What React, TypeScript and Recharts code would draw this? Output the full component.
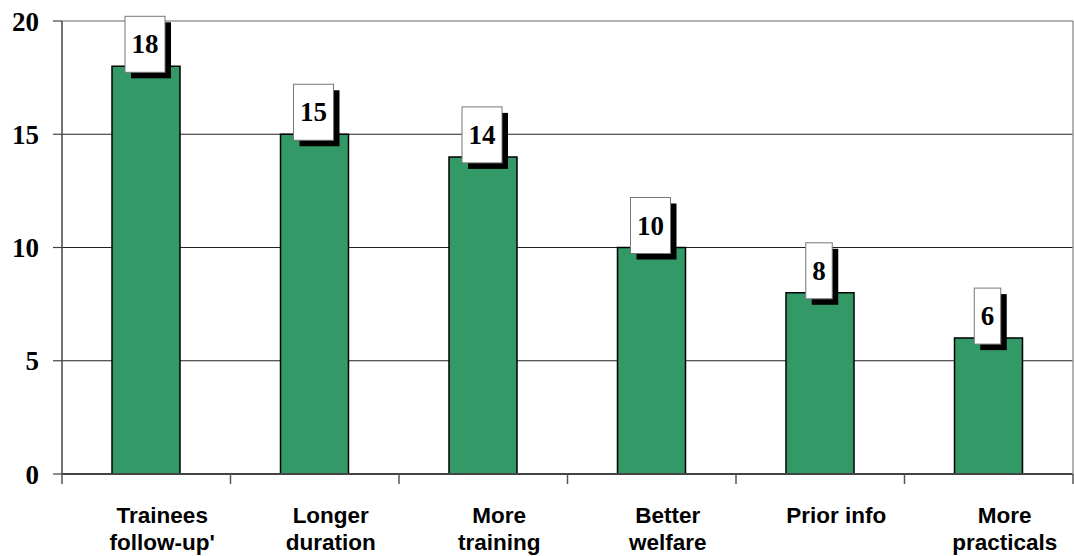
import { BarChart, Bar, XAxis, YAxis, CartesianGrid, ReferenceLine, LabelList } from "recharts";

// suggestions from trainees, number of mentions
const categories = [
  "Trainees\nfollow-up'",
  "Longer\nduration",
  "More\ntraining",
  "Better\nwelfare",
  "Prior info",
  "More\npracticals",
];
const mentions = [18, 15, 14, 10, 8, 6];
const yTicks = [0, 5, 10, 15, 20];

const data = categories.map((name, i) => ({ name, mentions: mentions[i] }));

const SERIF = "'Liberation Serif', 'Times New Roman', serif";
const SANS = "'Liberation Sans', Arial, sans-serif";

function CategoryTick(props: any) {
  const { x, y, payload, index } = props;
  const half = payload?.offset ?? 84;
  const lines = String(payload.value).split("\n");
  const top = y - 8;
  return (
    <g>
      <line x1={x - half} x2={x - half} y1={top} y2={top + 10} stroke="#555" strokeWidth={1.5} />
      {index === categories.length - 1 && (
        <line x1={x + half} x2={x + half} y1={top} y2={top + 10} stroke="#555" strokeWidth={1.5} />
      )}
      {lines.map((ln, i) => (
        <text
          key={i}
          x={x + 16}
          y={top + 49 + i * 27}
          textAnchor="middle"
          fontFamily={SANS}
          fontWeight="bold"
          fontSize={22.5}
          fill="#000"
        >
          {ln}
        </text>
      ))}
    </g>
  );
}

// white value box with a hard black drop shadow, sitting on the bar top
function ValueBox(props: any) {
  const { x, y, width, value } = props;
  const txt = String(value);
  const w = txt.length * 13.5 + 13;
  const h = 56;
  const cx = x + width / 2 - 1;
  const top = y - 50;
  return (
    <g>
      <rect x={cx - w / 2 + 6} y={top + 6} width={w} height={h} fill="#000" />
      <rect x={cx - w / 2} y={top} width={w} height={h} fill="#fff" stroke="#777" strokeWidth={1} />
      <text
        x={cx}
        y={top + h / 2 + 9}
        textAnchor="middle"
        fontFamily={SERIF}
        fontWeight="bold"
        fontSize={27}
        fill="#000"
      >
        {txt}
      </text>
    </g>
  );
}

export default function App() {
  return (
    <div style={{ position: "absolute", left: 0, top: 0, background: "#fff" }}>
      <BarChart
        width={1074}
        height={556}
        data={data}
        margin={{ top: 21, right: 0, left: 0, bottom: 0 }}
      >
        <CartesianGrid horizontalValues={[5, 10, 15]} vertical={false} stroke="#222" strokeWidth={1.2} />
        <ReferenceLine y={20} stroke="#999" strokeWidth={1.5} />
        <XAxis
          dataKey="name"
          height={82}
          interval={0}
          tickLine={false}
          axisLine={{ stroke: "#444", strokeWidth: 2 }}
          tick={<CategoryTick />}
        />
        <YAxis
          domain={[0, 20]}
          ticks={yTicks}
          width={62}
          tickSize={9}
          tickMargin={14}
          axisLine={{ stroke: "#444", strokeWidth: 1.5 }}
          tickLine={{ stroke: "#444", strokeWidth: 1.2 }}
          tick={{ fontFamily: SERIF, fontWeight: "bold", fontSize: 27, fill: "#000" }}
        />
        <YAxis
          yAxisId="frame"
          orientation="right"
          domain={[0, 20]}
          width={1}
          tick={false}
          tickLine={false}
          axisLine={{ stroke: "#999", strokeWidth: 1.5 }}
        />
        <Bar
          dataKey="mentions"
          barSize={68}
          fill="#339966"
          stroke="#000"
          strokeWidth={1.5}
          isAnimationActive={false}
        >
          <LabelList dataKey="mentions" content={<ValueBox />} />
        </Bar>
      </BarChart>
    </div>
  );
}
